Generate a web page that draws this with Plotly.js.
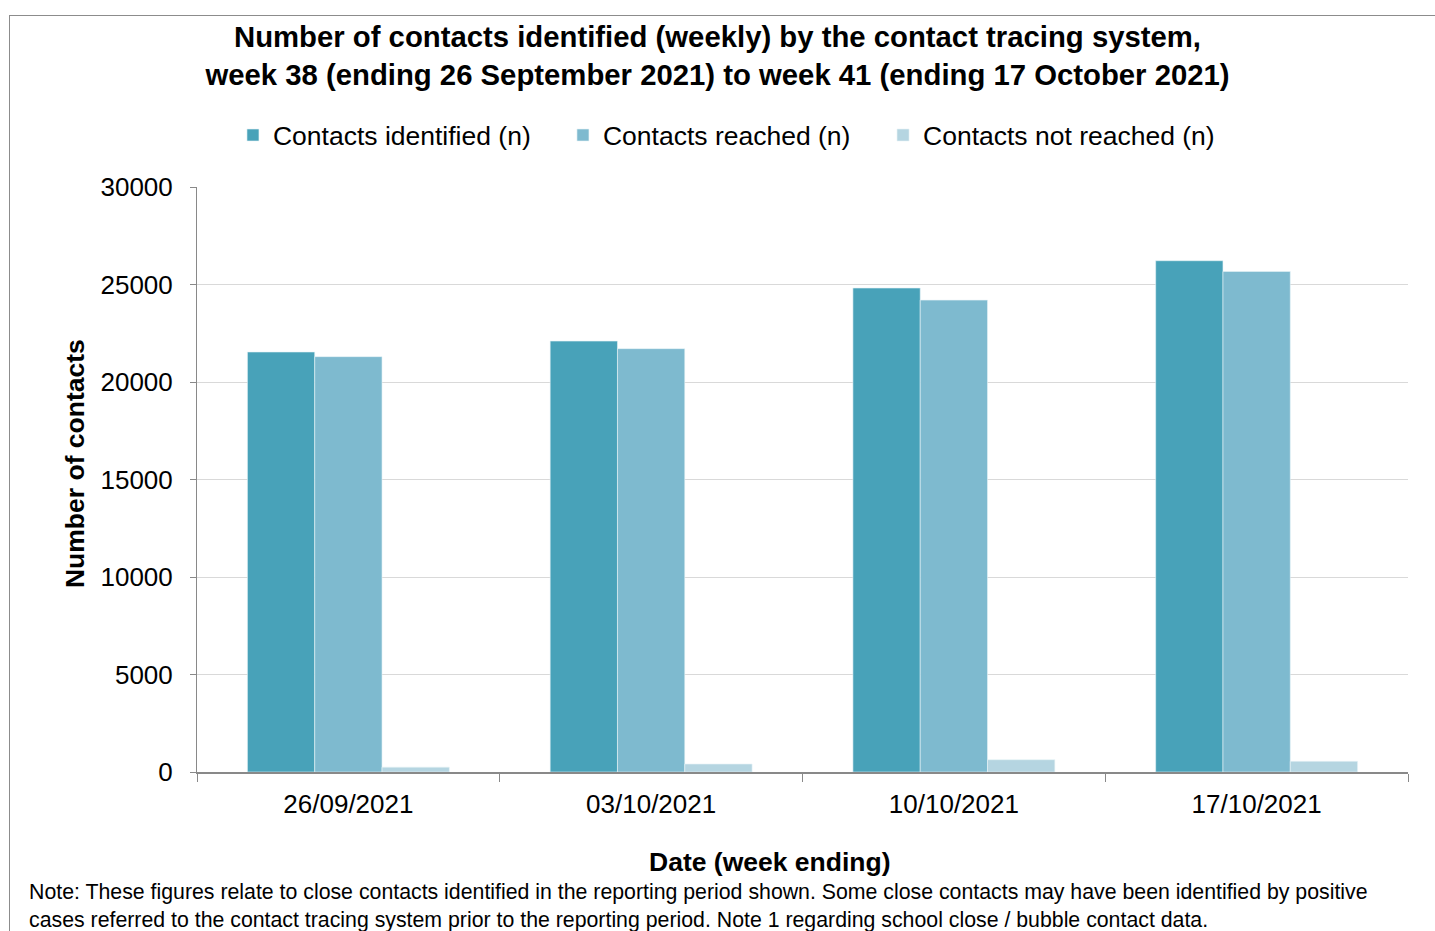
<!DOCTYPE html>
<html>
<head>
<meta charset="utf-8">
<script src="https://cdn.plot.ly/plotly-3.0.1.min.js"></script>
<style>
  html, body { margin: 0; padding: 0; background: #fff; }
  #chart { position: absolute; left: 0; top: 0; width: 1435px; height: 931px; }
  #frame { position: absolute; left: 9px; top: 15px; width: 1440px; height: 940px;
           border: 1px solid #8c8c8c; pointer-events: none; }
</style>
</head>
<body>
<div id="chart"></div>
<div id="frame"></div>
<script>
const categories = ["26/09/2021", "03/10/2021", "10/10/2021", "17/10/2021"];
const contactsIdentified = [21540, 22100, 24820, 26220];
const contactsReached = [21300, 21710, 24200, 25670];
const contactsNotReached = [250, 410, 630, 550];
const yTicks = [0, 5000, 10000, 15000, 20000, 25000, 30000];

const FONT = "Liberation Sans, Arial, sans-serif";

const traces = [
  { type: "bar", name: "Contacts identified (n)", x: categories, y: contactsIdentified, legend: "legend",
    marker: { color: "#48a2b9", line: { color: "#e8f3f6", width: 0.6 } } },
  { type: "bar", name: "Contacts reached (n)", x: categories, y: contactsReached, legend: "legend2",
    marker: { color: "#7ebacf", line: { color: "#e8f3f6", width: 0.6 } } },
  { type: "bar", name: "Contacts not reached (n)", x: categories, y: contactsNotReached, legend: "legend3",
    marker: { color: "#b5d5e1", line: { color: "#e8f3f6", width: 0.6 } } }
];

function legendAt(xp) {
  return {
    orientation: "h", x: xp, xanchor: "left", xref: "paper",
    y: 1.0884, yanchor: "middle", yref: "paper",
    font: { family: FONT, size: 26.5, color: "#000" },
    itemwidth: 30, bgcolor: "rgba(0,0,0,0)"
  };
}

const layout = {
  width: 1435, height: 931,
  paper_bgcolor: "#ffffff", plot_bgcolor: "#ffffff",
  font: { family: FONT, color: "#000000", size: 26 },
  margin: { l: 197, r: 27, t: 187, b: 159, pad: 0, autoexpand: false },
  barmode: "group",
  bargap: 0.333, bargroupgap: 0,
  showlegend: true,
  title: {
    text: "<b>Number of contacts identified (weekly) by the contact tracing system,<br>week 38 (ending 26 September 2021) to week 41 (ending 17 October 2021)</b>",
    font: { family: FONT, size: 29.3, color: "#000" },
    x: 0.5, xref: "container", xanchor: "center",
    y: 0.9491, yref: "container", yanchor: "top"
  },
  legend: legendAt(0.0297),
  legend2: legendAt(0.3022),
  legend3: legendAt(0.5665),
  xaxis: {
    type: "category",
    tickson: "boundaries",
    ticks: "outside", ticklen: 8, tickcolor: "#898989", tickwidth: 1,
    ticklabelstandoff: 8,
    showline: true, linecolor: "#898989", linewidth: 2,
    showgrid: false, zeroline: false,
    tickfont: { family: FONT, size: 26, color: "#000" },
    fixedrange: true
  },
  yaxis: {
    range: [0, 30000],
    tickvals: yTicks, ticktext: yTicks.map(String),
    ticks: "outside", ticklen: 6, tickcolor: "#898989", tickwidth: 1,
    ticklabelstandoff: 12,
    showline: true, linecolor: "#898989", linewidth: 1,
    showgrid: true, gridcolor: "#d9d9d9", gridwidth: 1,
    zeroline: false,
    tickfont: { family: FONT, size: 26, color: "#000" },
    fixedrange: true
  },
  annotations: [
    { text: "<b>Number of contacts</b>", textangle: -90,
      xref: "paper", yref: "paper", x: -0.1007, y: 0.5265,
      xanchor: "center", yanchor: "middle", showarrow: false,
      font: { family: FONT, size: 26.5, color: "#000" } },
    { text: "<b>Date (week ending)</b>",
      xref: "paper", yref: "paper", x: 0.473, y: -0.1538,
      xanchor: "center", yanchor: "middle", showarrow: false,
      font: { family: FONT, size: 26.5, color: "#000" } },
    { text: "Note: These figures relate to close contacts identified in the reporting period shown. Some close contacts may have been identified by positive<br>cases referred to the contact tracing system prior to the reporting period. Note 1 regarding school close / bubble contact data.",
      xref: "paper", yref: "paper", x: -0.1404, y: -0.1812,
      xanchor: "left", yanchor: "top", align: "left", showarrow: false,
      font: { family: FONT, size: 21.3, color: "#000" } }
  ]
};

Plotly.newPlot("chart", traces, layout, { displayModeBar: false, staticPlot: true });
</script>
</body>
</html>
